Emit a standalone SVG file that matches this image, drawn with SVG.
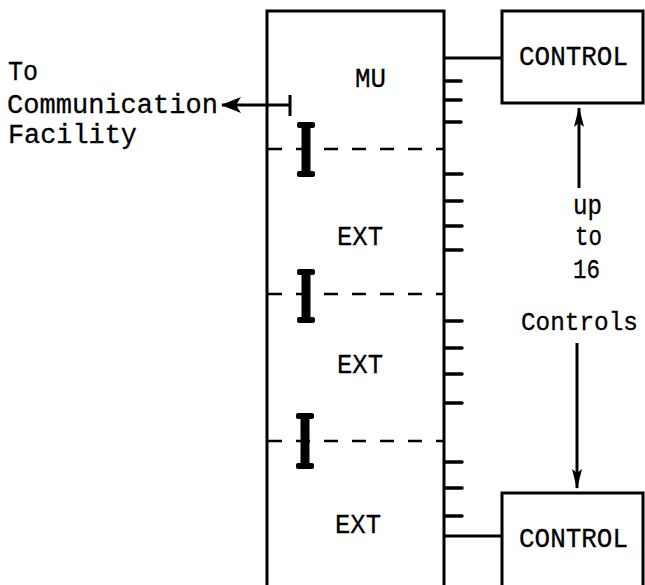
<svg xmlns="http://www.w3.org/2000/svg" width="645" height="585" viewBox="0 0 645 585">
<style>
text{font-family:"Liberation Mono","Courier New",monospace;font-size:27px;fill:#000;stroke:#000;stroke-width:0.3}
.box{fill:none;stroke:#000;stroke-width:3}
.ln{fill:none;stroke:#000;stroke-width:3}
.tick{fill:none;stroke:#000;stroke-width:3.5;stroke-linecap:round}
.dash{fill:none;stroke:#000;stroke-width:2.5;stroke-dasharray:14 14}
.beam{fill:#000}
</style>
<defs>
<marker id="ah" viewBox="0 0 20 10" refX="19" refY="5" markerWidth="20" markerHeight="10" markerUnits="userSpaceOnUse" orient="auto">
<path d="M0,0 L20,5 L0,10 L4,5 Z" fill="#000"/>
</marker>
<marker id="ahl" viewBox="0 0 20 16" refX="19" refY="8" markerWidth="20" markerHeight="16" markerUnits="userSpaceOnUse" orient="auto">
<path d="M0,0 L20,8 L0,16 L5,8 Z" fill="#000"/>
</marker>
</defs>
<g id="mu">
<path class="box" d="M267,590 V11 H444 V590"/>
<path class="dash" d="M268,149 H444"/>
<path class="dash" d="M268,294 H444"/>
<path class="dash" d="M268,441 H444"/>
<text x="355" y="87" textLength="31" lengthAdjust="spacingAndGlyphs">MU</text>
<text x="337" y="245" textLength="46" lengthAdjust="spacingAndGlyphs">EXT</text>
<text x="337" y="373" textLength="46" lengthAdjust="spacingAndGlyphs">EXT</text>
<text x="335" y="533" textLength="46" lengthAdjust="spacingAndGlyphs">EXT</text>
<g id="beams" class="beam">
<rect x="301.5" y="122" width="9" height="55"/>
<rect x="297" y="122" width="18" height="6" rx="2"/>
<rect x="297" y="171" width="18" height="6" rx="2"/>
<rect x="301.5" y="269" width="9" height="54"/>
<rect x="297" y="269" width="18" height="6" rx="2"/>
<rect x="297" y="317" width="18" height="6" rx="2"/>
<rect x="300.5" y="413" width="9" height="56"/>
<rect x="296" y="413" width="18" height="6" rx="2"/>
<rect x="296" y="463" width="18" height="6" rx="2"/>
</g>
<g id="ticks">
<path class="tick" d="M445,81 H461 M445,100 H461 M445,122 H461 M445,174 H462 M445,201 H462 M445,226 H462 M445,250 H462 M445,321 H462 M445,348 H462 M445,374 H462 M445,403 H462 M445,462 H462 M445,488 H462 M445,516 H462"/>
</g>
</g>
<g id="control-top">
<rect class="box" x="502" y="11" width="141" height="92"/>
<text x="519" y="65" textLength="109" lengthAdjust="spacingAndGlyphs">CONTROL</text>
</g>
<g id="control-bottom">
<path class="box" d="M502,590 V493 H643 V590"/>
<text x="519" y="547" textLength="109" lengthAdjust="spacingAndGlyphs">CONTROL</text>
</g>
<g id="labels">
<text x="8" y="80" textLength="30" lengthAdjust="spacingAndGlyphs">To</text>
<text x="7" y="113" textLength="211" lengthAdjust="spacingAndGlyphs">Communication</text>
<text x="8" y="143" textLength="129" lengthAdjust="spacingAndGlyphs">Facility</text>
<text x="573" y="214" textLength="29" lengthAdjust="spacingAndGlyphs">up</text>
<text x="575" y="245" textLength="27" lengthAdjust="spacingAndGlyphs">to</text>
<text x="573" y="278" textLength="27" lengthAdjust="spacingAndGlyphs">16</text>
<text x="521" y="330" style="font-size:25px" textLength="117" lengthAdjust="spacingAndGlyphs">Controls</text>
</g>
<g id="connectors">
<path class="ln" d="M444,58 H502"/>
<path class="ln" d="M444,536 H502"/>
<path class="ln" d="M289,105 H222" stroke-width="3.5" marker-end="url(#ahl)"/>
<path class="ln" d="M290,95 V116" stroke-width="4"/>
<path class="ln" d="M579,188 V108" marker-end="url(#ah)"/>
<path class="ln" d="M577,343 V488" marker-end="url(#ah)"/>
</g>
</svg>
